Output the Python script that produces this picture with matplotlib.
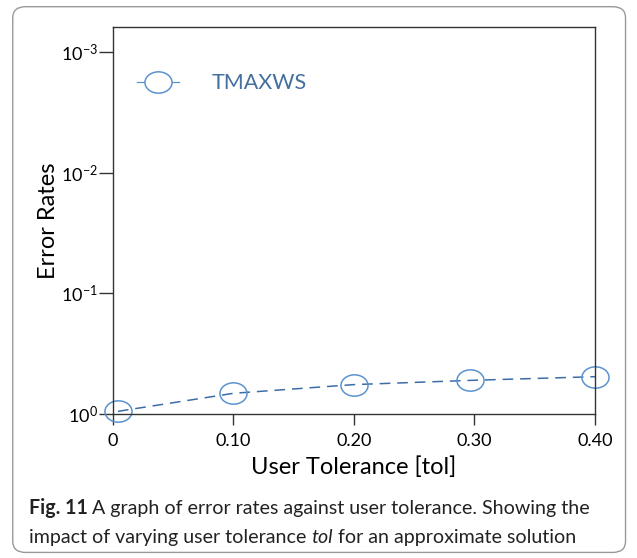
import matplotlib
matplotlib.use('Agg')
import matplotlib.pyplot as plt
from matplotlib.path import Path
from matplotlib.transforms import Affine2D
from matplotlib.patches import FancyBboxPatch

# Data
tol = [0.004, 0.10, 0.20, 0.296, 0.40]
error_rates = [0.95, 0.673, 0.570, 0.526, 0.49]
x_ticks = [0, 0.10, 0.20, 0.30, 0.40]
x_ticklabels = ['0', '0.10', '0.20', '0.30', '0.40']
y_ticks = [1e0, 1e-1, 1e-2, 1e-3]
y_ticklabels = ['$10^{0}$', '$10^{-1}$', '$10^{-2}$', '$10^{-3}$']
series_name = 'TMAXWS'

plt.rcParams['font.family'] = ['Lato', 'DejaVu Sans']
plt.rcParams['mathtext.fontset'] = 'custom'
plt.rcParams['mathtext.rm'] = 'Lato'
plt.rcParams['mathtext.it'] = 'Lato:italic'

fig = plt.figure(figsize=(6.37, 5.58), dpi=100)
ax = fig.add_axes([0.1774, 0.258, 0.7566, 0.6936])

# ellipse-shaped marker, a bit wider than tall
ellipse = Path.unit_circle().transformed(Affine2D().scale(1.27, 1.0))

ax.plot(tol, error_rates, color='#3d6da6', linestyle=(0, (7, 4.5)), linewidth=1.1,
        marker=ellipse, markersize=19.5, markerfacecolor='none',
        markeredgecolor='#5b93cf', markeredgewidth=1.1, label=series_name,
        clip_on=False)

ax.set_yscale('log')
ax.set_ylim(1, 10 ** -3.21)
ax.set_xlim(0, 0.40)
ax.set_yticks(y_ticks)
ax.set_yticklabels(y_ticklabels)
ax.minorticks_off()
ax.set_xticks(x_ticks)
ax.set_xticklabels(x_ticklabels)

for s in ax.spines.values():
    s.set_color('#333333')
    s.set_linewidth(1.0)
ax.tick_params(axis='y', direction='out', length=10, width=1, color='#333333',
               labelsize=13, pad=1)
ax.tick_params(axis='x', direction='out', length=8, width=1, color='#333333',
               labelsize=13, pad=6)

ax.set_xlabel('User Tolerance [tol]', fontsize=17, labelpad=5)
ax.set_ylabel('Error Rates', fontsize=17, labelpad=1)

leg = ax.legend(loc='upper left', bbox_to_anchor=(0.01, 0.93), frameon=False,
                fontsize=15.5, handlelength=1.95, handletextpad=1.5,
                labelcolor='#44709f')
for h in leg.legend_handles:
    h.set_linestyle('-')
    h.set_linewidth(0.9)
    h.set_color('#5b93cf')
    h.set_markerfacecolor('white')
    h.set_markeredgecolor('#5b93cf')

# rounded frame around the figure and caption
frame = FancyBboxPatch((0.02, 0.01), 0.962, 0.978, boxstyle='round,pad=0,rounding_size=0.02',
                       transform=fig.transFigure, facecolor='none',
                       edgecolor='#999999', linewidth=1.0)
fig.patches.append(frame)

# caption, drawn in pieces placed one after another
renderer = fig.canvas.get_renderer()
cap_font = ['Lato', 'DejaVu Sans']
cap_size = 14.1


def caption_line(pieces, x0, y):
    x = x0
    for txt, kw in pieces:
        t = fig.text(x, y, txt, fontsize=cap_size, family=cap_font, color='#222222',
                     **kw)
        bb = t.get_window_extent(renderer)
        x = x + bb.width / fig.bbox.width


caption_line([('Fig. 11 ', {'fontweight': 'bold'}),
              ('A graph of error rates against user tolerance. Showing the', {})],
             0.045, 0.078)
caption_line([('impact of varying user tolerance ', {}),
              ('tol', {'style': 'italic'}),
              (' for an approximate solution', {})],
             0.045, 0.027)

fig.savefig('out.png', dpi=100)
